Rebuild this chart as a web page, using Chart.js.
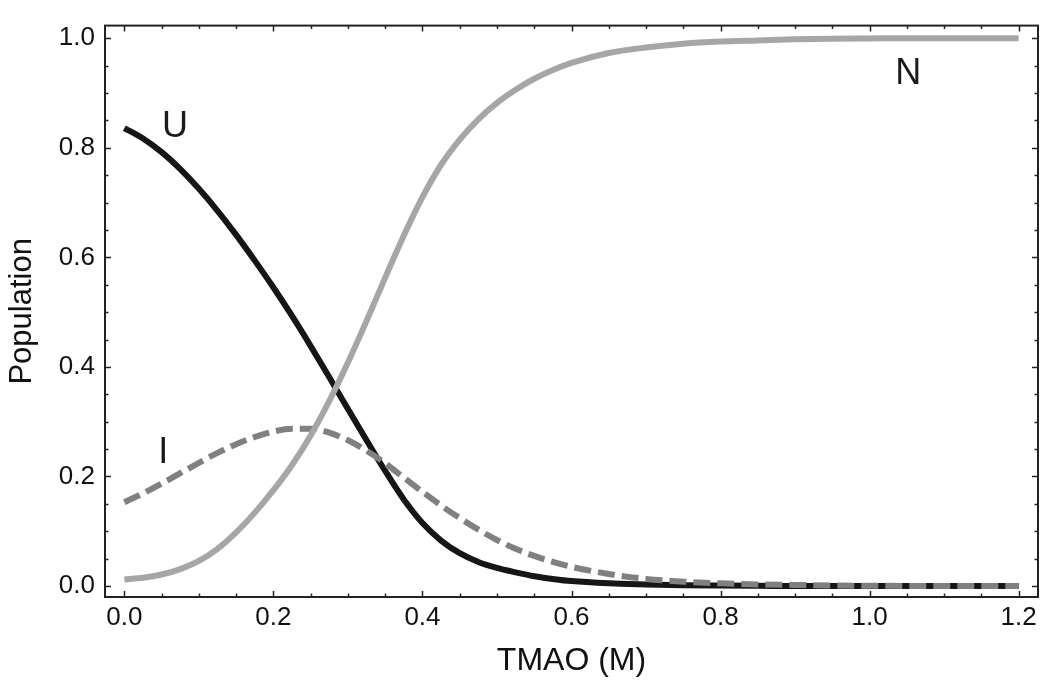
<!DOCTYPE html>
<html>
<head>
<meta charset="utf-8">
<script src="https://cdn.jsdelivr.net/npm/chart.js@4"></script>
<style>
  body { margin: 0; background: #fff; }
  canvas { display: block; }
</style>
</head>
<body>
<canvas id="myChart" width="1050" height="684"></canvas>
<script>
// donnees
const tmao = [0, 0.025, 0.05, 0.075, 0.1, 0.125, 0.15, 0.175, 0.2, 0.225, 0.25, 0.275, 0.3, 0.325, 0.35, 0.375, 0.4, 0.425, 0.45, 0.475, 0.5, 0.525, 0.55, 0.575, 0.6, 0.65, 0.7, 0.75, 0.8, 0.85, 0.9, 0.95, 1.0, 1.05, 1.1, 1.15, 1.2];
const popU = [0.836, 0.817, 0.792, 0.761, 0.725, 0.685, 0.641, 0.594, 0.545, 0.493, 0.438, 0.381, 0.323, 0.266, 0.21, 0.158, 0.115, 0.083, 0.06, 0.044, 0.033, 0.025, 0.018, 0.013, 0.009, 0.005, 0.003, 0.0015, 0.0008, 0.0004, 0.0002, 0, 0, 0, 0, 0, 0];
const popI = [0.153, 0.169, 0.187, 0.206, 0.225, 0.243, 0.259, 0.272, 0.282, 0.287, 0.287, 0.28, 0.266, 0.247, 0.224, 0.198, 0.172, 0.147, 0.124, 0.103, 0.084, 0.068, 0.055, 0.044, 0.035, 0.022, 0.013, 0.008, 0.005, 0.003, 0.002, 0.001, 0.0005, 0.0002, 0, 0, 0];
const popN = [0.012, 0.015, 0.021, 0.031, 0.046, 0.068, 0.098, 0.134, 0.175, 0.221, 0.275, 0.338, 0.408, 0.484, 0.563, 0.64, 0.71, 0.769, 0.815, 0.852, 0.882, 0.906, 0.926, 0.942, 0.955, 0.973, 0.983, 0.99, 0.994, 0.996, 0.998, 0.999, 0.9995, 1, 1, 1, 1];

const xTicks = [0, 0.2, 0.4, 0.6, 0.8, 1.0, 1.2];
const yTicks = [0, 0.2, 0.4, 0.6, 0.8, 1.0];
const minorStep = 0.05;

// etiquettes des courbes
const curveNames = ["U", "N", "I"];
const curveNameX = [0.068, 1.052, 0.052];
const curveNameY = [0.838, 0.934, 0.242];

const AXIS = "#222222";
const FONT = "'Liberation Sans', Arial, sans-serif";

function pts(ys) {
  return tmao.map((x, i) => ({ x: x, y: ys[i] }));
}

// cadre + graduations vers l'interieur sur les quatre cotes
const frame = {
  id: "frame",
  afterDraw(chart) {
    const ctx = chart.ctx;
    const a = chart.chartArea;
    const xs = chart.scales.x;
    const ys = chart.scales.y;
    ctx.save();
    ctx.strokeStyle = AXIS;
    ctx.lineWidth = 2;
    ctx.strokeRect(a.left, a.top, a.right - a.left, a.bottom - a.top);
    ctx.lineWidth = 1.5;
    ctx.beginPath();
    for (let v = 0; v <= 1.2001; v += minorStep) {
      const major = Math.abs(v / 0.2 - Math.round(v / 0.2)) < 1e-6;
      const len = major ? 6 : 3.5;
      const px = Math.round(xs.getPixelForValue(v)) + 0.5;
      ctx.moveTo(px, a.bottom); ctx.lineTo(px, a.bottom - len);
      ctx.moveTo(px, a.top); ctx.lineTo(px, a.top + len);
    }
    for (let v = 0; v <= 1.0001; v += minorStep) {
      const major = Math.abs(v / 0.2 - Math.round(v / 0.2)) < 1e-6;
      const len = major ? 6 : 3.5;
      const py = Math.round(ys.getPixelForValue(v)) + 0.5;
      ctx.moveTo(a.left, py); ctx.lineTo(a.left + len, py);
      ctx.moveTo(a.right, py); ctx.lineTo(a.right - len, py);
    }
    ctx.stroke();
    ctx.restore();
  },
  afterDatasetsDraw(chart) {
    const ctx = chart.ctx;
    ctx.save();
    ctx.fillStyle = "#1a1a1a";
    ctx.font = "36px " + FONT;
    ctx.textAlign = "center";
    ctx.textBaseline = "middle";
    curveNames.forEach((t, i) => {
      ctx.fillText(t, chart.scales.x.getPixelForValue(curveNameX[i]), chart.scales.y.getPixelForValue(curveNameY[i]));
    });
    ctx.restore();
  },
};

const config = {
  type: "line",
  data: {
    datasets: [
      {
        label: "N",
        data: pts(popN),
        borderColor: "#a6a6a6",
        borderWidth: 6,
        order: 0,
      },
      {
        label: "I",
        data: pts(popI),
        borderColor: "#808080",
        borderWidth: 6,
        borderDash: [17, 7],
        order: 1,
      },
      {
        label: "U",
        data: pts(popU),
        borderColor: "#161616",
        borderWidth: 6,
        order: 2,
      },
    ],
  },
  options: {
    responsive: false,
    animation: false,
    elements: {
      point: { radius: 0 },
      line: { cubicInterpolationMode: "monotone", fill: false },
    },
    layout: { padding: { top: 21, right: 12, left: 0, bottom: 0 } },
    plugins: { legend: { display: false }, tooltip: { enabled: false } },
    scales: {
      x: {
        type: "linear",
        min: -0.026,
        max: 1.226,
        grid: { display: false, drawTicks: false },
        border: { display: false },
        afterBuildTicks: (s) => { s.ticks = xTicks.map((v) => ({ value: v })); },
        afterFit: (s) => { s.height = 87; },
        ticks: {
          color: "#111",
          font: { family: FONT, size: 26 },
          padding: 5,
          maxRotation: 0,
          callback: (v) => Number(v).toFixed(1),
        },
        title: {
          display: true,
          text: "TMAO (M)",
          color: "#111",
          font: { family: FONT, size: 32 },
          padding: { top: 6 },
        },
      },
      y: {
        type: "linear",
        min: -0.02,
        max: 1.023,
        grid: { display: false, drawTicks: false },
        border: { display: false },
        afterBuildTicks: (s) => { s.ticks = yTicks.map((v) => ({ value: v })); },
        afterFit: (s) => { s.width = 105; },
        ticks: {
          color: "#111",
          font: { family: FONT, size: 26 },
          padding: 10,
          callback: (v) => Number(v).toFixed(1),
        },
        title: {
          display: true,
          text: "Population",
          color: "#111",
          font: { family: FONT, size: 31 },
          padding: { bottom: 0 },
        },
      },
    },
  },
  plugins: [frame],
};

let context = document.getElementById("myChart").getContext("2d");
let chart = new Chart(context, config);
</script>
</body>
</html>
